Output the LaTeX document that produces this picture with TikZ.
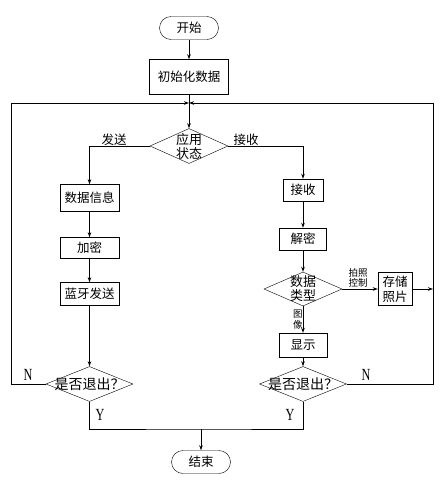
\documentclass[tikz,border=0pt]{standalone}
\usepackage{fontspec}
\setmainfont{Liberation Serif}
\newfontfamily\cjk{Noto Sans CJK SC}
\usepackage{tikz}
\usetikzlibrary{positioning, calc, arrows.meta, shapes.geometric}

\begin{document}
\begin{tikzpicture}[
    x=1pt, y=-1pt,
    terminal/.style={rectangle, draw, rounded corners=11.5pt, minimum height=23pt, minimum width=59pt, inner sep=0pt, font=\cjk\fontsize{12.5}{14}\selectfont},
    process/.style={rectangle, draw, minimum height=22pt, inner sep=0pt, align=center, font=\cjk\fontsize{12.5}{14}\selectfont},
    decision/.style={diamond, draw, inner sep=0pt, minimum width=78pt, minimum height=35pt},
    dec_text/.style={align=center, font=\cjk\fontsize{13}{14}\selectfont},
    quit_text/.style={font=\cjk\fontsize{14}{15}\selectfont},
    flow_arrow/.style={-{Stealth[length=5pt, width=3.5pt]}},
    line_style/.style={line width=0.9pt},
    label_style/.style={font=\cjk\fontsize{12.5}{14}\selectfont},
    small_label/.style={font=\cjk\fontsize{9.5}{10.5}\selectfont, align=center, inner sep=1pt},
    yn_label/.style={font=\fontsize{17}{18}\selectfont, xscale=0.72}
]
    \useasboundingbox (0,0) rectangle (440,485);

    % Start and init
    \node[terminal] (start) at (189,28) {开始};
    \node[process, minimum width=79pt, minimum height=35pt] (init) at (189,77) {初始化数据};
    \coordinate (top) at (189,103);

    % App state
    \node[decision, label={[dec_text]center:应用\\状态}] (state) at (189,146) {};

    % Send branch
    \node[process, minimum width=59pt, minimum height=27pt] (info) at (89.5,198) {数据信息};
    \node[process, minimum width=59pt, minimum height=21pt] (enc) at (89.5,248) {加密};
    \node[process, minimum width=59pt, minimum height=23pt] (bt) at (89.5,294) {蓝牙发送};
    \node[decision, minimum width=87pt, label={[quit_text]center:是否退出？}] (quit1) at (89.5,384) {};

    % Receive branch
    \node[process, minimum width=40pt] (recv) at (303,190) {接收};
    \node[process, minimum width=47pt] (decr) at (303,239) {解密};
    \node[decision, minimum height=34pt, label={[dec_text]center:数据\\类型}] (type) at (303,289) {};
    \node[process, minimum width=34pt, minimum height=33pt, font=\cjk\fontsize{12.5}{15}\selectfont] (store) at (395,289) {存储\\照片};
    \node[process, minimum width=48pt, minimum height=24pt] (show) at (303,345) {显示};
    \node[decision, minimum width=87pt, label={[quit_text]center:是否退出？}] (quit2) at (303,384) {};

    % End
    \coordinate (merge) at (201,429);
    \node[terminal] (stop) at (201,462) {结束};

    % Corners of the loop
    \coordinate (lb) at (11,384);
    \coordinate (lt) at (11,103);
    \coordinate (rb) at (433,384);
    \coordinate (rt) at (433,103);
    \coordinate (rs) at (433,289);

    % Main flow
    \draw[line_style, flow_arrow] (start) -- (init);
    \draw[line_style, flow_arrow] (init) -- (state);
    \draw[line_style, flow_arrow] (state.west) -| (info.north);
    \draw[line_style, flow_arrow] (state.east) -| (recv.north);
    \node[label_style] (send_lbl) at (114,140) {发送};
    \node[label_style] (recv_lbl) at (246,140) {接收};

    \draw[line_style, flow_arrow] (info) -- (enc);
    \draw[line_style, flow_arrow] (enc) -- (bt);
    \draw[line_style, flow_arrow] (bt) -- (quit1);

    \draw[line_style, flow_arrow] (recv) -- (decr);
    \draw[line_style, flow_arrow] (decr) -- (type);
    \draw[line_style, flow_arrow] (type) -- node[above, small_label, xshift=-2pt] {拍照\\控制} (store);
    \draw[line_style, flow_arrow] (type) -- node[left, small_label, xshift=1pt] {图\\像} (show);
    \draw[line_style, flow_arrow] (show) -- (quit2);
    \draw[line_style, flow_arrow] (store) -- (rs);

    % Loop back
    \draw[line_style, flow_arrow] (quit1.west) -- (lb) -- (lt) -- (top);
    \draw[line_style, flow_arrow] (quit2.east) -- (rb) -- (rt) -- (top);
    \node[yn_label] (n1) at (28,375) {N};
    \node[yn_label] (n2) at (366,375) {N};

    % Exit
    \draw[line_style] (quit1.south) |- (merge) -| (quit2.south);
    \draw[line_style, flow_arrow] (merge) -- (stop);
    \node[yn_label] (y1) at (100,415) {Y};
    \node[yn_label] (y2) at (290,415) {Y};
\end{tikzpicture}
\end{document}
